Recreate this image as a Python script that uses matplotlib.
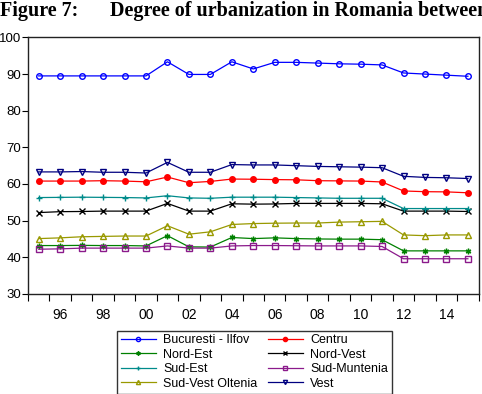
import matplotlib.pyplot as plt

plt.rcParams['font.family'] = ['Liberation Sans', 'DejaVu Sans']

years = list(range(1995, 2016))

bucuresti = [89.5, 89.5, 89.5, 89.5, 89.5, 89.5, 93.35, 89.9, 89.9, 93.35, 91.4,
             93.2, 93.2, 93.0, 92.8, 92.7, 92.5, 90.3, 90.0, 89.7, 89.4]
centru = [60.8, 60.8, 60.8, 60.9, 60.8, 60.6, 61.9, 60.35, 60.7, 61.35, 61.3,
          61.2, 61.15, 60.9, 60.85, 60.8, 60.55, 58.1, 57.9, 57.85, 57.6]
nord_est = [43.2, 43.2, 43.25, 43.2, 43.2, 43.1, 45.9, 42.85, 42.8, 45.4, 45.1,
            45.3, 45.1, 45.0, 44.95, 44.95, 44.8, 41.75, 41.75, 41.75, 41.75]
nord_vest = [52.2, 52.45, 52.5, 52.6, 52.6, 52.6, 54.7, 52.6, 52.6, 54.6, 54.5,
             54.55, 54.7, 54.7, 54.7, 54.7, 54.6, 52.6, 52.6, 52.6, 52.5]
sud_est = [56.3, 56.35, 56.4, 56.35, 56.3, 56.2, 56.8, 56.2, 56.1, 56.4, 56.4,
           56.4, 56.3, 56.2, 56.1, 56.1, 56.1, 53.3, 53.3, 53.3, 53.3]
sud_muntenia = [42.2, 42.3, 42.5, 42.5, 42.5, 42.5, 43.1, 42.5, 42.5, 43.1, 43.2,
                43.2, 43.15, 43.1, 43.1, 43.1, 42.95, 39.6, 39.6, 39.6, 39.6]
sv_oltenia = [45.1, 45.3, 45.6, 45.7, 45.8, 45.8, 48.6, 46.3, 46.95, 48.95, 49.2,
              49.3, 49.35, 49.35, 49.6, 49.7, 49.8, 46.1, 45.9, 46.1, 46.1]
vest = [63.3, 63.3, 63.4, 63.2, 63.2, 63.0, 65.9, 63.2, 63.2, 65.3, 65.2,
        65.2, 65.0, 64.8, 64.7, 64.6, 64.45, 62.1, 61.8, 61.7, 61.5]

series = [
    ("Bucuresti - Ilfov", bucuresti, "#0000ff", "o", "none"),
    ("Centru", centru, "#ff0000", "o", "#ff0000"),
    ("Nord-Est", nord_est, "#008000", (6, 2, 0), "#008000"),
    ("Nord-Vest", nord_vest, "#000000", "x", "#000000"),
    ("Sud-Est", sud_est, "#008b8b", "+", "#008b8b"),
    ("Sud-Muntenia", sud_muntenia, "#8b1a8b", "s", "none"),
    ("Sud-Vest Oltenia", sv_oltenia, "#999900", "^", "none"),
    ("Vest", vest, "#000080", "v", "none"),
]

fig = plt.figure(figsize=(4.82, 3.94), dpi=100)
ax = fig.add_axes([0.058, 0.254, 0.935, 0.651])

lines = []
for name, vals, color, marker, face in series:
    ln, = ax.plot(years, vals, color=color, lw=0.9, marker=marker, markersize=4,
                  markerfacecolor=face, markeredgecolor=color, markeredgewidth=1.0,
                  label=name)
    lines.append(ln)

ax.set_xlim(1994.5, 2015.5)
ax.set_ylim(30, 100)
ax.set_yticks(range(30, 101, 10))

ax.set_xticks(range(1996, 2015, 2))
ax.set_xticklabels([f"{y % 100:02d}" for y in range(1996, 2015, 2)])
ax.set_xticks([y + 0.5 for y in range(1994, 2016)], minor=True)
ax.tick_params(axis='x', which='major', length=0, pad=10, labelsize=10)
ax.tick_params(axis='x', which='minor', length=5, width=0.8, direction='out')
ax.tick_params(axis='y', length=4, width=0.8, direction='out', labelsize=9.5, pad=1)

for sp in ax.spines.values():
    sp.set_linewidth(1.0)
    sp.set_color('#222222')

# legend filled row by row, like the original
order = [0, 2, 4, 6, 1, 3, 5, 7]
ax.legend([lines[i] for i in order], [series[i][0] for i in order],
          loc='upper left', bbox_to_anchor=(0.198, -0.143), ncol=2,
          fontsize=9, frameon=True, fancybox=False, edgecolor='black',
          handlelength=2.8, handletextpad=0.6, columnspacing=0.8,
          labelspacing=0.2, borderpad=0.3, borderaxespad=0, markerscale=0.75)

fig.text(0.0, 0.997, "Figure 7:", family=['Liberation Serif'], fontweight='bold',
         fontsize=14.5, va='top', ha='left')
fig.text(0.228, 0.997, "Degree of urbanization in Romania between",
         family=['Liberation Serif'], fontweight='bold', fontsize=14.5,
         va='top', ha='left')

fig.savefig("out.png", dpi=100)
